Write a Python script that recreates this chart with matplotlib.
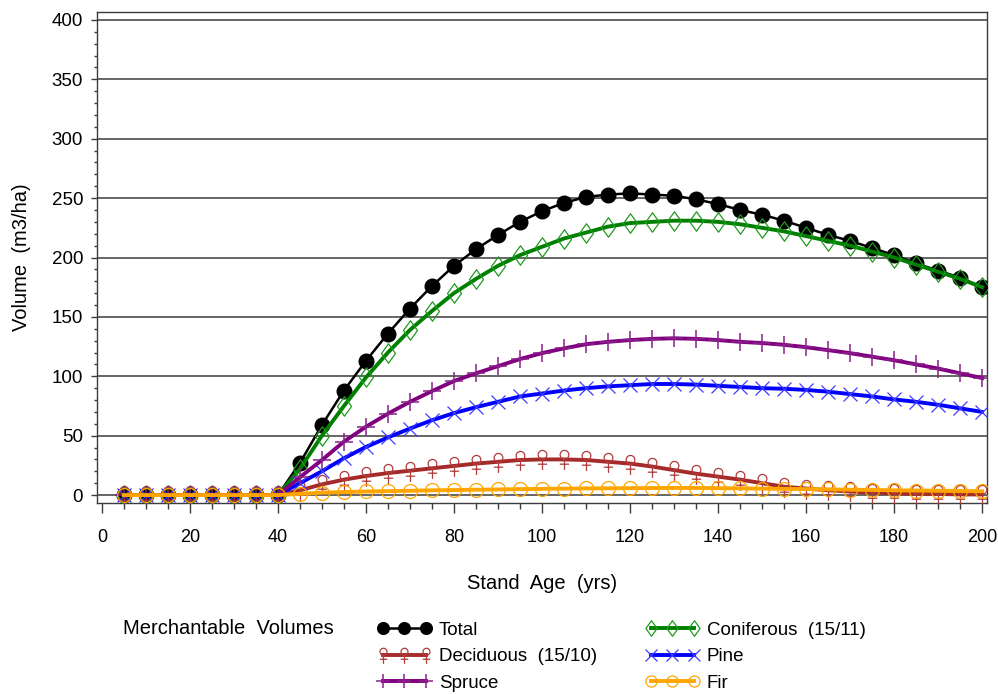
import numpy as np
import matplotlib
matplotlib.use("Agg")
import matplotlib.pyplot as plt
from matplotlib.path import Path
from matplotlib.ticker import MultipleLocator

plt.rcParams['font.family'] = ['Liberation Sans', 'DejaVu Sans']

# stand age, every 5 years
age = list(range(5, 205, 5))

zeros = [0] * 8  # ages 5..40
total = zeros + [27, 59, 88, 113, 136, 157, 176, 193, 207, 219, 230, 239, 246, 251, 253, 254,
                 253, 252, 249, 245, 240, 236, 231, 225, 219, 214, 208, 202, 195, 189, 183, 175]
coniferous = zeros + [22, 50, 75, 99, 120, 139, 155, 170, 182, 193, 202, 209, 216, 221, 226, 229,
                      230, 231, 231, 230, 228, 225, 222, 218, 214, 210, 205, 200, 194, 188, 182, 175]
deciduous = zeros + [4, 9, 13, 16, 18.5, 20.5, 22.5, 24.5, 26.5, 28, 29.5, 30, 30, 29.5, 28, 26.5,
                     24, 21, 18, 15.5, 13, 10, 7, 5.5, 4, 3, 2, 1.5, 1, 1, 0.5, 0.5]
spruce = zeros + [15, 29.5, 45, 57.5, 68.5, 78.5, 87.5, 96, 102.5, 108.5, 114.5, 119.5, 123.5, 127,
                  129, 130.5, 131.5, 132, 131.5, 130.5, 129, 128, 126.5, 124.5, 122, 119.5, 116.5,
                  113.5, 110, 106.5, 102.5, 98.5]
pine = zeros + [10, 20, 31, 40.5, 48.5, 56, 63, 69, 74, 78.5, 83, 85.5, 88, 90, 91.5, 92.5, 93.5,
                93.5, 93, 92, 91, 90, 89.5, 88.5, 87, 85, 83, 80.5, 78.5, 76, 73, 70]
fir = zeros + [1, 2, 2.5, 3, 3.3, 3.6, 4, 4.2, 4.5, 4.7, 5, 5.2, 5.4, 5.6, 5.7, 5.8, 5.9, 6, 6, 5.8,
               5.6, 5.4, 5.2, 5, 4.8, 4.5, 4.3, 4, 3.8, 3.6, 3.4, 3.2]

# tall open diamond
diamond = Path([(0, 1), (0.72, 0), (0, -1), (-0.72, 0), (0, 1)],
               [Path.MOVETO, Path.LINETO, Path.LINETO, Path.LINETO, Path.CLOSEPOLY])

# open bulb on a stem with a crossbar
t = np.linspace(0, 2 * np.pi, 25)
bulb_v = [(0.42 * np.cos(a), 0.45 + 0.42 * np.sin(a)) for a in t]
bulb_c = [Path.MOVETO] + [Path.LINETO] * (len(t) - 1)
stem_v = [(0, 0.03), (0, -1), (-0.45, -0.45), (0.45, -0.45)]
stem_c = [Path.MOVETO, Path.LINETO, Path.MOVETO, Path.LINETO]
tulip = Path(bulb_v + stem_v, bulb_c + stem_c)

fig = plt.figure(figsize=(9.98, 6.94), dpi=100)
ax = fig.add_axes([0.0972, 0.2752, 0.8918, 0.7075])

h_total, = ax.plot(age, total, color='black', lw=1.8, marker='o', ms=10.5,
                   mfc='black', mec='black', label='Total', zorder=3)
h_con, = ax.plot(age, coniferous, color='#008000', lw=2.8, marker=diamond, ms=14,
                 mfc='none', mec='#1f9a1f', mew=0.9, label='Coniferous  (15/11)', zorder=4)
h_dec, = ax.plot(age, deciduous, color='#A52A2A', lw=2.8, marker=tulip, ms=15,
                 mfc='none', mec='#b03c3c', mew=0.9, label='Deciduous  (15/10)', zorder=4)
h_pine, = ax.plot(age, pine, color='#0000FF', lw=2.8, marker='x', ms=10,
                  mec='#3c3cff', mew=0.9, label='Pine', zorder=4)
h_spr, = ax.plot(age, spruce, color='#800080', lw=2.8, marker='+', ms=13,
                 mec='#8a208a', mew=1.1, label='Spruce', zorder=4)
h_fir, = ax.plot(age, fir, color='#FFA500', lw=2.8, marker='o', ms=10,
                 mfc='none', mec='#ffa500', mew=0.9, label='Fir', zorder=5)

ax.set_xlim(-1.1, 201.1)
ax.set_ylim(-6.7, 406.7)
ax.xaxis.set_major_locator(MultipleLocator(20))
ax.xaxis.set_minor_locator(MultipleLocator(5))
ax.yaxis.set_major_locator(MultipleLocator(50))
ax.yaxis.set_minor_locator(MultipleLocator(10))
ax.grid(axis='y', which='major', color='#3c3c3c', lw=1.1)
ax.set_axisbelow(True)

for s in ax.spines.values():
    s.set_color('#3c3c3c')
    s.set_linewidth(1.0)
ax.tick_params(axis='x', which='major', length=7, width=1, pad=12, labelsize=13, colors='#3c3c3c',
               labelcolor='black')
ax.tick_params(axis='x', which='minor', length=4.5, width=1, colors='#3c3c3c')
ax.tick_params(axis='y', which='major', length=4.5, width=1, pad=5.5, labelsize=13.5, colors='#3c3c3c',
               labelcolor='black')
ax.tick_params(axis='y', which='minor', length=2, width=1, colors='#3c3c3c')

ax.set_xlabel('Stand  Age  (yrs)', fontsize=14.5, labelpad=20)
ax.set_ylabel('Volume  (m3/ha)', fontsize=14.5, labelpad=15)

fig.text(0.123, 0.095, 'Merchantable  Volumes', fontsize=14.5, va='center')

leg_kw = dict(loc='upper left', frameon=False, fontsize=13.5, handlelength=2.9,
              handletextpad=0.4, labelspacing=0.5, borderpad=0, borderaxespad=0,
              markerscale=0.8, numpoints=3)
leg1 = fig.legend(handles=[h_total, h_dec, h_spr], bbox_to_anchor=(0.3778, 0.104), **leg_kw)
leg2 = fig.legend(handles=[h_con, h_pine, h_fir], bbox_to_anchor=(0.6463, 0.104), **leg_kw)

fig.savefig('out.png', dpi=100)
